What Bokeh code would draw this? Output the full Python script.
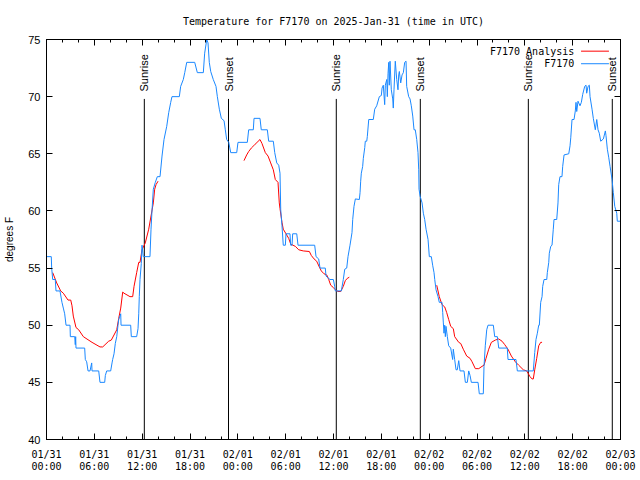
from math import pi
from bokeh.plotting import figure
from bokeh.models import LinearAxis, FixedTicker, Range1d
from bokeh.embed import file_html
from bokeh.resources import INLINE
from bokeh.core.properties import value

# ---- data (hours since 2025-01-31 00:00 UTC, degrees F) ----
obs_hours = [
    0.0, 0.60, 0.65, 0.78, 1.10, 1.19, 1.69, 1.94, 2.11, 2.28, 2.45, 2.95, 2.99, 3.54, 3.61, 3.66, 3.70,
    4.79, 4.87, 5.04, 5.21, 5.46, 5.67, 5.71, 6.55, 6.71, 7.30, 7.38, 7.55, 8.05, 8.22, 8.30, 8.47, 8.63,
    8.81, 8.97, 9.06, 9.31, 9.35, 10.56, 10.64, 11.31, 11.48, 11.57, 11.64, 11.73, 11.89, 11.98, 12.14,
    12.98, 13.11, 13.24, 13.40, 13.65, 13.90, 14.24, 14.49, 14.74, 15.08, 15.33, 15.58, 15.74, 16.66,
    16.83, 17.16, 17.34, 17.59, 18.59, 18.92, 19.67, 19.84, 20.10, 20.26, 20.42, 20.60, 20.92, 21.26,
    21.43, 21.68, 21.93, 22.27, 22.43, 22.60, 22.86, 23.11, 23.86, 24.02, 25.19, 25.36, 25.94, 26.03,
    26.78, 26.94, 27.70, 27.87, 28.45, 28.63, 28.88, 29.13, 29.29, 29.38, 29.54, 29.70, 29.96, 30.04,
    30.54, 30.63, 30.80, 30.88, 31.39, 31.55, 33.64, 33.81, 34.14, 34.31, 34.97, 35.06, 35.56, 35.98,
    36.15, 36.23, 36.98, 37.23, 37.41, 37.66, 37.82, 38.07, 38.32, 38.41, 38.57, 38.74, 39.24, 39.33,
    39.41, 39.49, 39.66, 39.74, 39.92, 39.99, 40.17, 40.24, 40.42, 40.99, 41.17, 41.42, 41.75, 42.00,
    42.09, 42.25, 42.42, 42.50, 42.68, 42.75, 42.84, 42.93, 43.00, 43.09, 43.25, 43.43, 43.50, 43.59,
    43.75, 43.93, 44.09, 44.18, 44.26, 44.43, 44.60, 44.76, 44.93, 45.10, 45.18, 45.43, 45.60, 45.76,
    45.94, 46.10, 46.26, 46.44, 46.60, 46.69, 46.73, 46.86, 47.11, 47.27, 47.44, 47.61, 47.86, 48.02,
    48.27, 48.45, 48.61, 48.70, 48.86, 49.11, 49.27, 49.61, 49.70, 49.78, 49.86, 49.95, 50.03, 50.11,
    50.28, 50.45, 50.70, 50.87, 50.95, 51.03, 51.20, 51.37, 51.53, 51.71, 51.87, 52.37, 52.54, 52.79,
    52.96, 53.13, 53.29, 54.13, 54.29, 54.79, 54.88, 55.04, 55.22, 55.38, 56.05, 56.22, 56.55, 56.73,
    57.80, 57.89, 58.89, 59.06, 61.06, 61.24, 61.40, 61.57, 61.74, 61.82, 61.99, 62.16, 62.24, 62.41,
    62.75, 62.82, 63.00, 63.07, 63.25, 63.41, 63.57, 63.66, 64.00, 64.16, 64.25, 64.41, 64.66, 64.75,
    64.92, 65.51, 65.67, 65.76, 65.92, 66.17, 66.33, 66.42, 66.51, 66.67, 66.92, 67.09, 67.26, 67.51,
    67.68, 67.76, 67.93, 68.09, 68.18, 68.43, 68.59, 68.84, 69.02, 69.18, 69.34, 69.52, 69.85, 70.10,
    70.18, 70.35, 70.52, 70.69, 70.94, 71.10, 71.28, 71.53, 71.60, 72.0,
]
obs_temps = [
    56, 56, 55, 54, 54, 53, 53, 52, 51.5, 51, 50, 50, 49, 49, 48.3, 49, 48,
    48, 47, 46.8, 46, 46, 46.7, 46, 46, 45, 45, 45.6, 46, 46, 46.7, 47, 47.5, 48.4,
    49, 50, 50.5, 51, 50, 50, 49, 49, 49.7, 51, 52.5, 54, 55.4, 57, 56,
    56, 58.4, 60.1, 61.9, 62.5, 63, 63, 64.8, 66.25, 67.4, 68.6, 69.5, 70, 70,
    70.9, 71.5, 72.1, 73, 73, 72.1, 72.1, 73.8, 75, 74.7, 73, 72.2, 71.5, 70.9,
    70, 68.9, 68.1, 67.9, 67.1, 66.25, 66, 65.1, 65.1, 66, 66, 67.1, 67.1, 68.1,
    68.1, 67.1, 67.1, 66.1, 66.1, 65.1, 64.2, 64, 63.3, 60.1, 58.7, 57, 57, 58,
    58, 57, 57, 58, 58, 57, 57, 56, 55.8, 55, 55, 54.3, 54, 54,
    53.4, 53, 53, 54, 54.9, 55, 56, 57, 58.1, 59.25, 60.4, 61.05, 61, 61.6,
    62.6, 63.3, 63.9, 64.6, 65.55, 66.1, 66.1, 66.5, 68, 68, 68.9, 69.2, 70, 70.1,
    70.75, 71, 69.3, 71, 71.5, 70, 72, 73, 71, 73.1, 70.6, 69.8, 69, 70.6,
    73.1, 71.5, 70.6, 71.9, 72.2, 71.2, 71.9, 72.1, 73, 73.1, 70.9, 70, 69.8, 69.2,
    68.3, 67.1, 67.1, 66.25, 65.1, 63.6, 61.9, 61.3, 60.7, 59.8, 59.25, 58.4, 57.5, 56,
    56, 55.2, 54.6, 54, 53.1, 52.5, 52, 52, 51.1, 50.2, 49.3, 50, 49, 49.9,
    49, 48.2, 48, 47.3, 47, 47.9, 47, 46.1, 46.1, 46.9, 46, 46, 45, 45,
    46, 45.6, 45, 45, 44, 44, 46.4, 48.2, 49.6, 50, 50, 49, 49, 48,
    48, 47, 47, 46, 46, 47.6, 48.75, 49.3, 50, 50, 52, 52.5, 53.4, 54,
    54, 54.6, 55.5, 56.3, 56.9, 57, 58.4, 59.25, 59.25, 60.7, 62.3, 63, 63, 63.9,
    64.9, 65, 65.7, 66.4, 68, 68, 68.75, 69.5, 68.7, 69.6, 69.2, 69.5, 70.2, 70.9,
    71, 70.3, 70.9, 71, 70, 68.9, 68.1, 67.1, 68, 67.1, 66.8, 66.1, 66.3, 67,
    66.6, 65.4, 64.7, 63.9, 62.75, 61.6, 60.4, 59.8, 59.1, 59.1,
]

analysis1_hours = [0.78, 1.28, 1.78, 2.11, 2.70, 3.04, 3.20, 3.36, 3.70, 4.04, 4.62, 5.71, 6.71, 7.05,
                   7.80, 8.13, 8.81, 9.06, 9.31, 9.56, 9.72, 10.47, 10.81, 10.98, 11.31, 11.57, 11.73,
                   11.98, 12.39, 12.82, 13.40, 13.57, 13.74, 13.99]
analysis1_temps = [54.6, 53.7, 53, 52.8, 52.2, 52.2, 51.7, 50.8, 49.8, 49.6, 49, 48.5, 48.1, 48.1,
                   48.6, 48.7, 49.6, 50.6, 51.5, 52.9, 52.8, 52.5, 52.5, 53.4, 54.6, 55.5, 55.5,
                   56.6, 57.2, 58.4, 60.7, 61.9, 62.3, 62.6]

analysis2_hours = [24.77, 25.11, 25.36, 25.69, 26.12, 26.78, 27.03, 27.45, 27.79, 28.12, 28.45, 28.70,
                   29.04, 29.20, 29.29, 29.54, 29.70, 30.04, 30.38, 30.63, 31.21, 31.64, 32.21, 32.97,
                   33.22, 33.56, 33.89, 34.22, 34.47, 34.81, 35.15, 35.40, 35.65, 35.98, 36.23, 36.57,
                   36.91, 37.23, 37.48, 37.73, 37.98]
analysis2_temps = [64.4, 64.9, 65.2, 65.5, 65.8, 66.25, 65.9, 65.1, 64.8, 64.2, 63.6, 62.75,
                   62.5, 60.7, 60.2, 59, 58.4, 58, 57.6, 57.1, 56.9, 56.6, 56.5, 56.45,
                   56.1, 55.8, 55.6, 55.1, 54.75, 54.5, 54.4, 54, 53.5, 53.3, 53.1, 52.95,
                   52.95, 53.4, 53.9, 54.1, 54.2]

analysis3_hours = [48.95, 49.27, 49.61, 49.95, 50.20, 50.45, 50.70, 51.03, 51.20, 51.71, 51.96, 52.28,
                   52.71, 53.13, 53.38, 53.79, 54.22, 54.63, 54.88, 55.13, 55.47, 55.80, 56.30, 56.72,
                   57.14, 57.48, 57.89, 58.31, 58.81, 59.23, 59.81, 60.24, 60.65, 60.90, 61.06, 61.24,
                   61.49, 61.74, 61.99, 62.16]
analysis3_temps = [53.5, 52.5, 51.8, 51.6, 51.1, 50.5, 49.9, 49.7, 49, 48.5, 48.4, 47.9,
                   47.3, 47.1, 46.8, 46.2, 46.2, 46.4, 46.5, 47.1, 47.9, 48.5, 48.7, 48.8,
                   48.6, 48.3, 47.9, 47.3, 46.8, 46.5, 46.1, 46, 45.5, 45.3, 45.3, 46.1,
                   47.1, 48.2, 48.5, 48.5]

sun_hours = [12.27, 22.83, 36.35, 46.89, 60.44, 70.97]
sun_labels = ["Sunrise", "Sunset", "Sunrise", "Sunset", "Sunrise", "Sunset"]

x_ticks = [0, 6, 12, 18, 24, 30, 36, 42, 48, 54, 60, 66, 72]
x_tick_labels = ["01/31\n00:00", "01/31\n06:00", "01/31\n12:00", "01/31\n18:00",
                 "02/01\n00:00", "02/01\n06:00", "02/01\n12:00", "02/01\n18:00",
                 "02/02\n00:00", "02/02\n06:00", "02/02\n12:00", "02/02\n18:00",
                 "02/03\n00:00"]
x_minor_ticks = [h for h in range(0, 73, 2)]
y_ticks = [40, 45, 50, 55, 60, 65, 70, 75]

series_names = ["F7170 Analysis", "F7170"]

# ---- styles ----
RED = "#ff0000"
BLUE = "#1a88ff"
MONO = "DejaVu Sans Mono"
SANS = "Liberation Sans"

p = figure(frame_width=574, frame_height=400,
           x_range=Range1d(0, 72), y_range=Range1d(40, 75),
           output_backend="svg", toolbar_location=None,
           min_border_left=46, min_border_right=19, min_border_top=39, min_border_bottom=40,
           title="Temperature for F7170 on 2025-Jan-31 (time in UTC)")
p.title.align = "center"
p.title.text_font = MONO
p.title.text_font_size = "10px"
p.title.text_font_style = "normal"
p.title.text_color = "black"
p.title.standoff = 25
p.grid.visible = False
p.outline_line_color = "black"
p.outline_line_width = 1
p.background_fill_color = "white"
p.border_fill_color = "white"

xt = FixedTicker(ticks=x_ticks, minor_ticks=x_minor_ticks)
yt = FixedTicker(ticks=y_ticks, minor_ticks=[])

ax = p.xaxis[0]
ax.ticker = xt
ax.major_label_overrides = {t: l for t, l in zip(x_ticks, x_tick_labels)}
ax.major_label_text_font = MONO
ax.major_label_text_font_size = "10px"
ax.major_label_text_line_height = 1.1
ax.major_label_standoff = 9

ay = p.yaxis[0]
ay.ticker = yt
ay.major_label_text_font = SANS
ay.major_label_text_font_size = "11px"
ay.major_label_standoff = 6
ay.axis_label = "degrees F"
ay.axis_label_text_font = SANS
ay.axis_label_text_font_size = "10px"
ay.axis_label_text_font_style = "normal"
ay.axis_label_text_color = "black"
ay.axis_label_standoff = 10

top = LinearAxis(ticker=xt, major_label_text_font_size="0px", major_label_standoff=0,
                 major_label_text_color=None,
                 major_label_overrides={t: "" for t in x_ticks})
right = LinearAxis(ticker=yt, major_label_text_font_size="0px", major_label_standoff=0,
                   major_label_text_color=None,
                   major_label_overrides={t: "" for t in y_ticks})
p.add_layout(top, "above")
p.add_layout(right, "right")

for a in [ax, ay, top, right]:
    a.axis_line_color = "black"
    a.major_tick_line_color = "black"
    a.minor_tick_line_color = "black"
    a.major_tick_in = 6
    a.major_tick_out = 0
    a.minor_tick_in = 3
    a.minor_tick_out = 0
for a in [ax, ay]:
    a.major_label_text_color = "black"

# sunrise / sunset markers
p.segment(x0=sun_hours, y0=[40] * len(sun_hours), x1=sun_hours, y1=[69.8] * len(sun_hours),
          line_color="black", line_width=1)
p.text(x=sun_hours, y=[70.45] * len(sun_hours), text=sun_labels, angle=pi / 2,
       text_align="left", text_baseline="middle",
       text_font=value(SANS), text_font_size="11px", text_color="black")

# series
for hrs, tmp in [(analysis1_hours, analysis1_temps), (analysis2_hours, analysis2_temps),
                 (analysis3_hours, analysis3_temps)]:
    p.line(hrs, tmp, line_color=RED, line_width=1)
p.line(obs_hours, obs_temps, line_color=BLUE, line_width=1)

# gnuplot-style key (text, then sample line), positioned in plot coordinates
key_text_x = 66.2
key_x0, key_x1 = 67.05, 70.55
key_y = [73.98, 72.88]
p.text(x=[key_text_x] * 2, y=key_y, text=series_names, text_align="right", text_baseline="middle",
       text_font=value(MONO), text_font_size="10px", text_color="black")
p.segment(x0=[key_x0] * 2, y0=key_y, x1=[key_x1] * 2, y1=key_y, line_color=[RED, BLUE], line_width=1)

open("out.html", "w").write(file_html(p, INLINE))
